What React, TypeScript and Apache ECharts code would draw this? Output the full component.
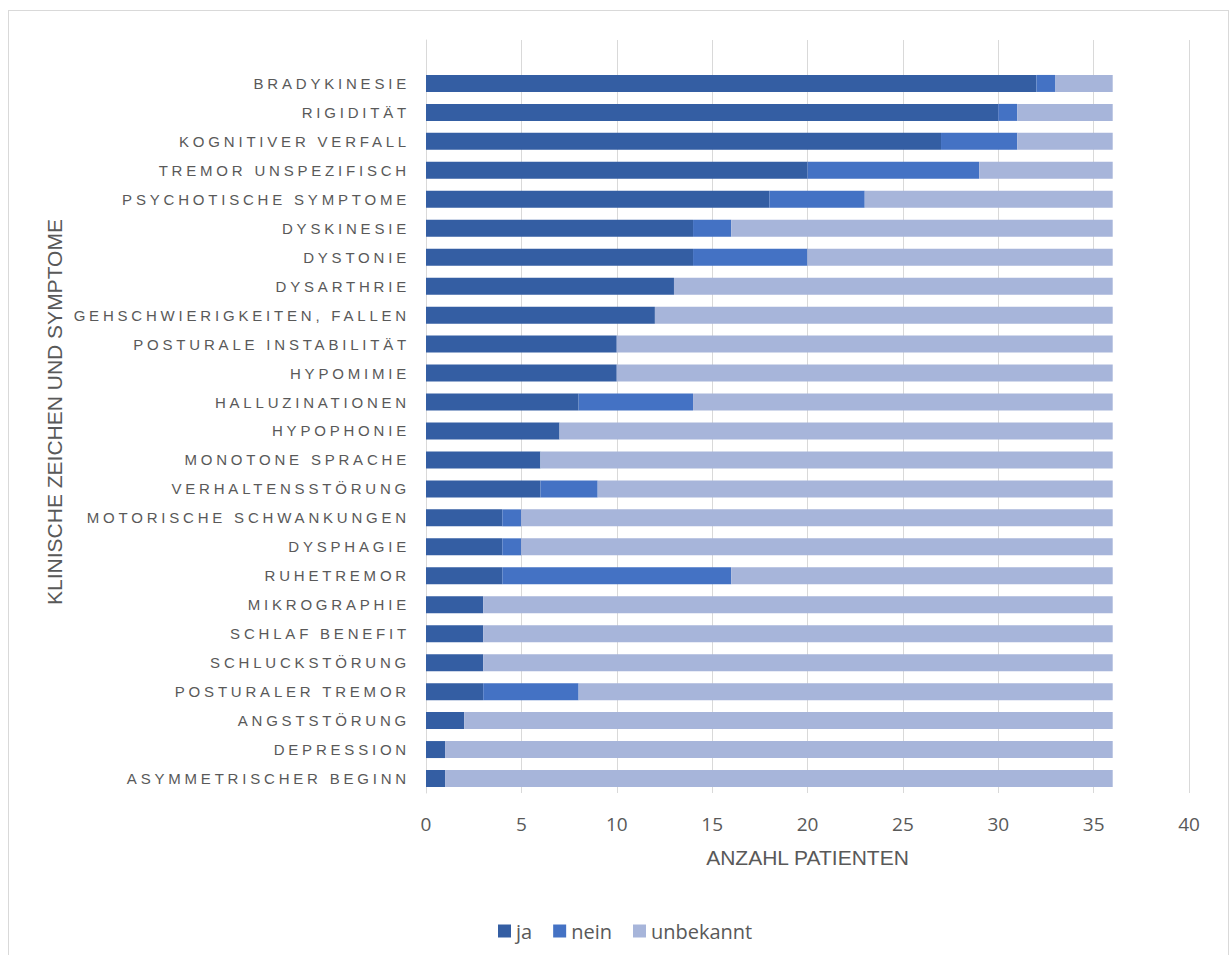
import React, { useEffect, useRef } from "react";
import * as echarts from "echarts";

const categories = [
  "BRADYKINESIE",
  "RIGIDITÄT",
  "KOGNITIVER VERFALL",
  "TREMOR UNSPEZIFISCH",
  "PSYCHOTISCHE SYMPTOME",
  "DYSKINESIE",
  "DYSTONIE",
  "DYSARTHRIE",
  "GEHSCHWIERIGKEITEN, FALLEN",
  "POSTURALE INSTABILITÄT",
  "HYPOMIMIE",
  "HALLUZINATIONEN",
  "HYPOPHONIE",
  "MONOTONE SPRACHE",
  "VERHALTENSSTÖRUNG",
  "MOTORISCHE SCHWANKUNGEN",
  "DYSPHAGIE",
  "RUHETREMOR",
  "MIKROGRAPHIE",
  "SCHLAF BENEFIT",
  "SCHLUCKSTÖRUNG",
  "POSTURALER TREMOR",
  "ANGSTSTÖRUNG",
  "DEPRESSION",
  "ASYMMETRISCHER BEGINN",
];

const ja = [32, 30, 27, 20, 18, 14, 14, 13, 12, 10, 10, 8, 7, 6, 6, 4, 4, 4, 3, 3, 3, 3, 2, 1, 1];
const nein = [1, 1, 4, 9, 5, 2, 6, 0, 0, 0, 0, 6, 0, 0, 3, 1, 1, 12, 0, 0, 0, 5, 0, 0, 0];
const unbekannt = [3, 5, 5, 7, 13, 20, 16, 23, 24, 26, 26, 22, 29, 30, 27, 31, 31, 20, 33, 33, 33, 28, 34, 35, 35];

const seriesNames = ["ja", "nein", "unbekannt"];
const xAxisTitle = "ANZAHL PATIENTEN";
const yAxisTitle = "KLINISCHE ZEICHEN UND SYMPTOME";

const TEXT = "#595959";
const GRID = "#d9d9d9";
const COLORS = ["#345ea3", "#4472c4", "#a7b5da"];

export default function App() {
  const ref = useRef<HTMLDivElement>(null);

  useEffect(() => {
    const el = ref.current!;
    const chart = echarts.init(el, null, { renderer: "svg" });
    const axisCats = ["", ...categories];
    const pad = (a: number[]) => [null, ...a];
    const values = [ja, nein, unbekannt];

    chart.setOption({
      animation: false,
      color: COLORS,
      grid: { left: 417, top: 29, width: 763, height: 753, containLabel: false },
      xAxis: {
        type: "value",
        min: 0,
        max: 40,
        interval: 5,
        axisLine: { show: false },
        axisTick: { show: false },
        splitLine: { show: true, lineStyle: { color: GRID, width: 1 } },
        axisLabel: {
          color: TEXT,
          fontSize: 19,
          fontFamily: "Open Sans",
          margin: 21,
        },
        name: xAxisTitle,
        nameLocation: "middle",
        nameGap: 54,
        nameTextStyle: { color: TEXT, fontSize: 21, fontFamily: "Liberation Sans" },
      },
      yAxis: {
        type: "category",
        inverse: true,
        data: axisCats,
        axisLine: { show: true, lineStyle: { color: GRID, width: 1 } },
        axisTick: { show: false },
        splitLine: { show: false },
        axisLabel: {
          color: TEXT,
          fontSize: 15,
          fontFamily: "Liberation Sans",
          margin: 16,
          interval: 0,
        },
      },
      legend: {
        data: seriesNames,
        left: 484,
        top: 905,
        icon: "rect",
        itemWidth: 13,
        itemHeight: 13,
        itemGap: 21,
        textStyle: { color: TEXT, fontSize: 20, fontFamily: "Open Sans" },
      },
      graphic: [
        {
          type: "text",
          x: 45.5,
          y: 401,
          rotation: Math.PI / 2,
          style: {
            text: yAxisTitle,
            fill: TEXT,
            fontSize: 21,
            fontFamily: "Liberation Sans",
            textAlign: "center",
            textVerticalAlign: "middle",
          },
        },
      ],
      series: seriesNames.map((name, i) => ({
        name,
        type: "bar",
        stack: "total",
        barWidth: 17,
        data: pad(values[i]),
        itemStyle: { color: COLORS[i] },
      })),
    });

    const catSet = new Set(categories);
    const spacing = () => {
      el.querySelectorAll("text").forEach((t) => {
        if (catSet.has((t.textContent || "").trim())) {
          (t as SVGTextElement).style.letterSpacing = "3.8px";
        }
      });
    };
    spacing();
    chart.on("finished", spacing);
    const raf = requestAnimationFrame(spacing);
    const to = setTimeout(spacing, 50);

    return () => {
      cancelAnimationFrame(raf);
      clearTimeout(to);
      chart.dispose();
    };
  }, []);

  return (
    <div
      style={{
        position: "fixed",
        left: 8,
        top: 10,
        width: 1221,
        height: 960,
        border: "1px solid #d9d9d9",
        boxSizing: "border-box",
        background: "#fff",
      }}
    >
      <div ref={ref} style={{ width: 1219, height: 958 }} />
    </div>
  );
}
